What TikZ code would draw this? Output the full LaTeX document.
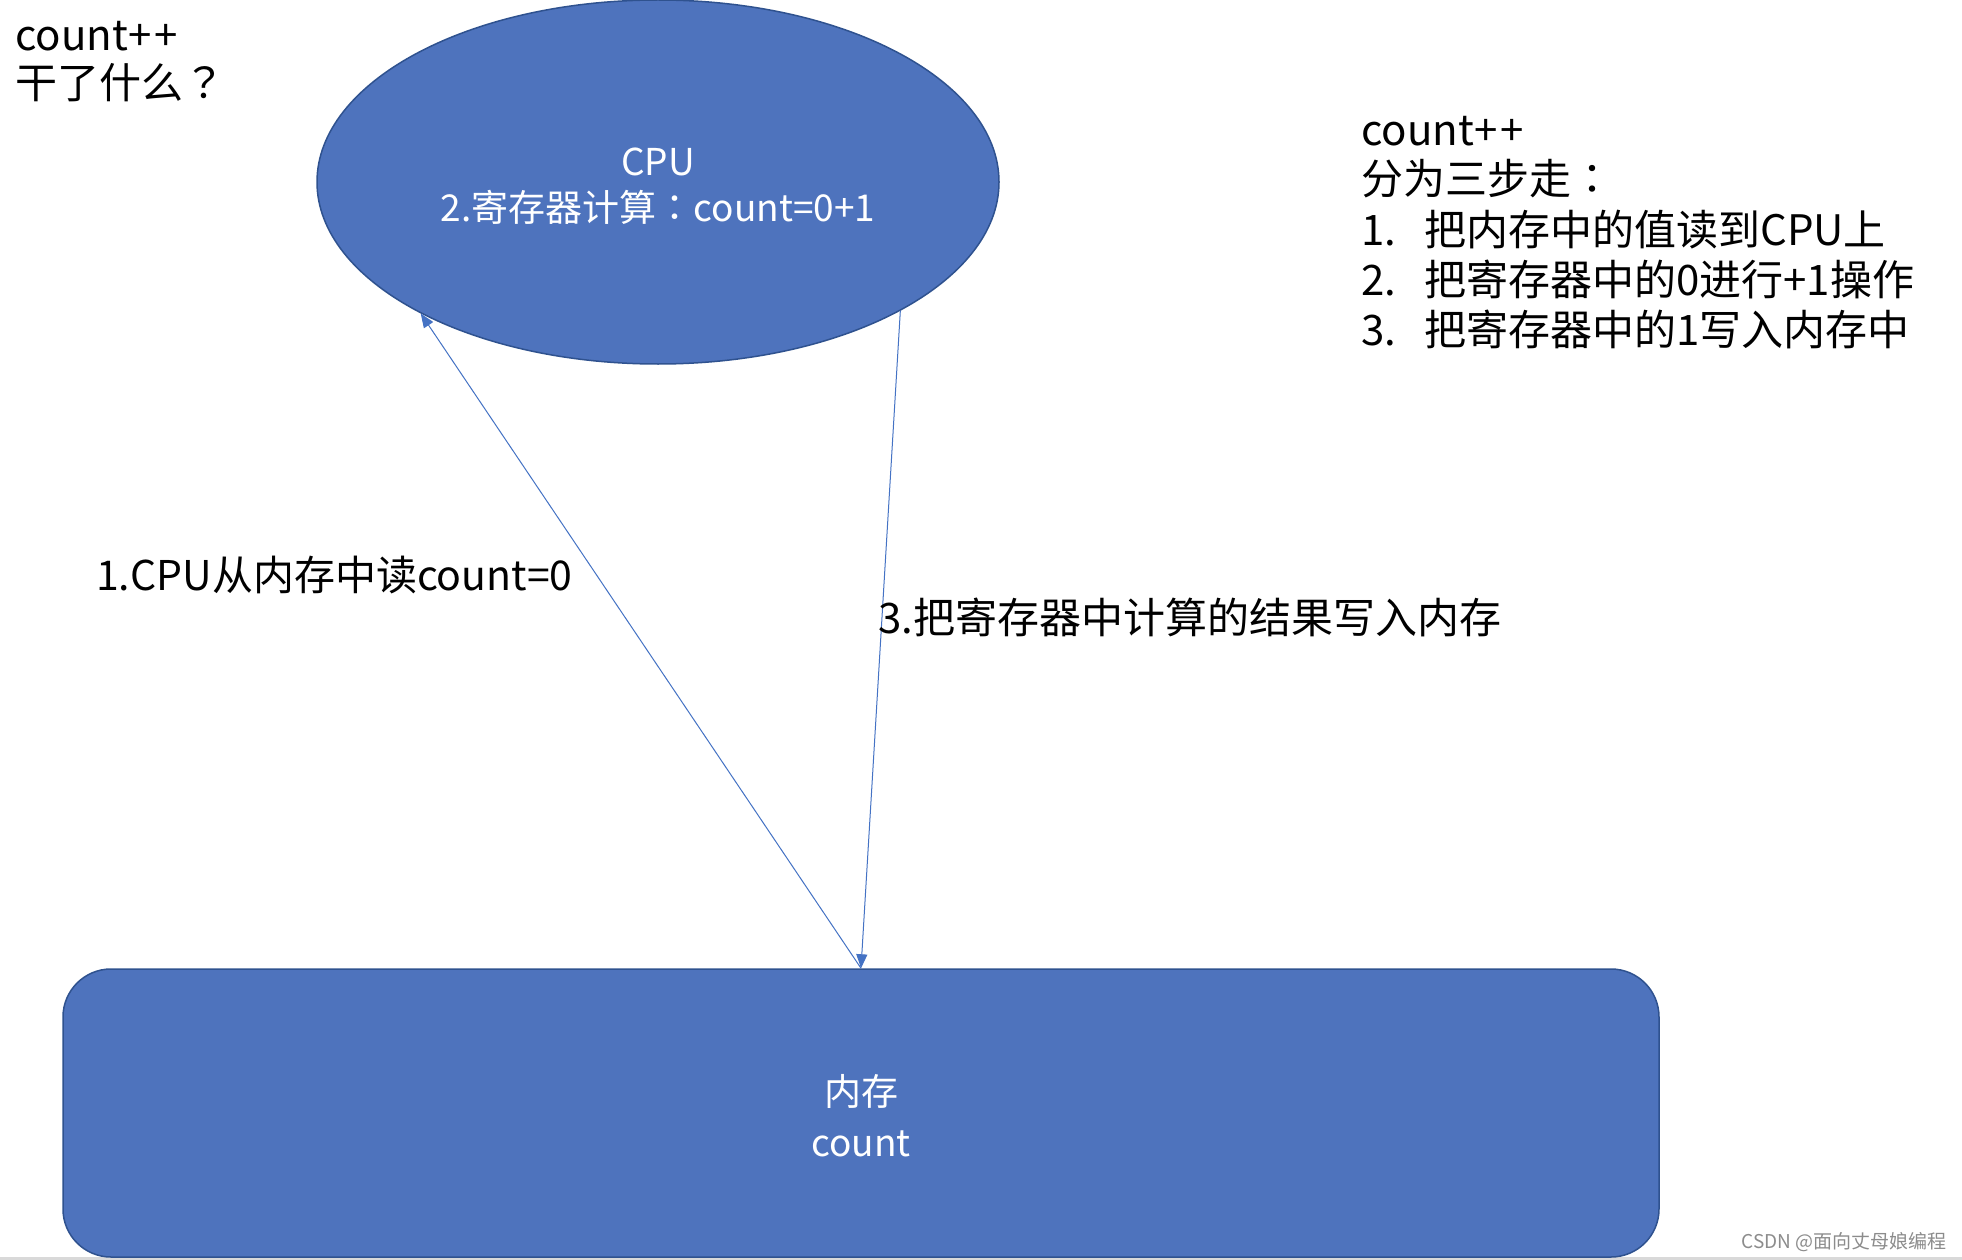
\documentclass[tikz,border=0pt]{standalone}
\usepackage{fontspec}
\setmainfont{Noto Sans CJK SC}
\newfontfamily\tcpunct{Noto Sans CJK TC}
\usetikzlibrary{shapes.geometric,arrows.meta}
\definecolor{fillblue}{HTML}{4E73BD}
\definecolor{edgeblue}{HTML}{2F528F}
\definecolor{lineblue}{HTML}{4472C4}
\begin{document}
\begin{tikzpicture}[x=1pt,y=-1pt,
  shapebox/.style={fill=fillblue,draw=edgeblue,line width=1.5pt,inner sep=0pt},
  inner/.style={font=\fontsize{37}{46}\selectfont,text=white,align=center,inner sep=0pt},
  txt/.style={font=\fontsize{42}{50}\selectfont,inner sep=0pt,anchor=base west},
  conn/.style={draw=lineblue,line width=1pt,-{Triangle[length=14pt,width=11pt]}}]
\path[use as bounding box] (0,0) rectangle (1962,1260);
\fill[white] (0,0) rectangle (1962,1260);
\fill[black!15] (0,1257) rectangle (1962,1260);

\node[shapebox,ellipse,minimum width=682pt,minimum height=364pt] (cpu) at (658,182) {};
\node[inner] (cpulbl) at (658,186) {CPU\\2.寄存器计算{\tcpunct ：}count=0+1};
\node[shapebox,rectangle,rounded corners=48pt,minimum width=1596pt,minimum height=288pt] (mem) at (861,1113) {};
\node[inner] (memlbl) at (861,1116) {内存\\[5pt]count};

\draw[conn] (mem.north) -- (cpu.-151.2);
\draw[conn] (cpu.-28.5) -- (mem.north);

\node[txt] (t1) at (15,51) {count+\kern3pt+};
\node[txt] (t2) at (15,99) {干了什么{\tcpunct ？}};

\node[txt] (r1) at (1361,146) {count+\kern3pt+};
\node[txt] (r2) at (1361,195) {分为三步走{\tcpunct ：}};
\node[txt] (r3) at (1361,245) {\makebox[63pt][l]{1.}把内存中的值读到CPU上};
\node[txt] (r4) at (1361,295) {\makebox[63pt][l]{2.}把寄存器中的0进行+1操作};
\node[txt] (r5) at (1361,345) {\makebox[63pt][l]{3.}把寄存器中的1写入内存中};

\node[txt,font=\fontsize{41}{50}\selectfont] (l1) at (96,590) {1.CPU从内存中读count=0};
\node[txt] (l3) at (878,633) {3.把寄存器中计算的结果写入内存};

\node[font=\fontsize{19}{22}\selectfont,text=black!45,inner sep=0pt,anchor=base east] (wm) at (1947,1248) {CSDN @面向丈母娘编程};
\end{tikzpicture}
\end{document}
